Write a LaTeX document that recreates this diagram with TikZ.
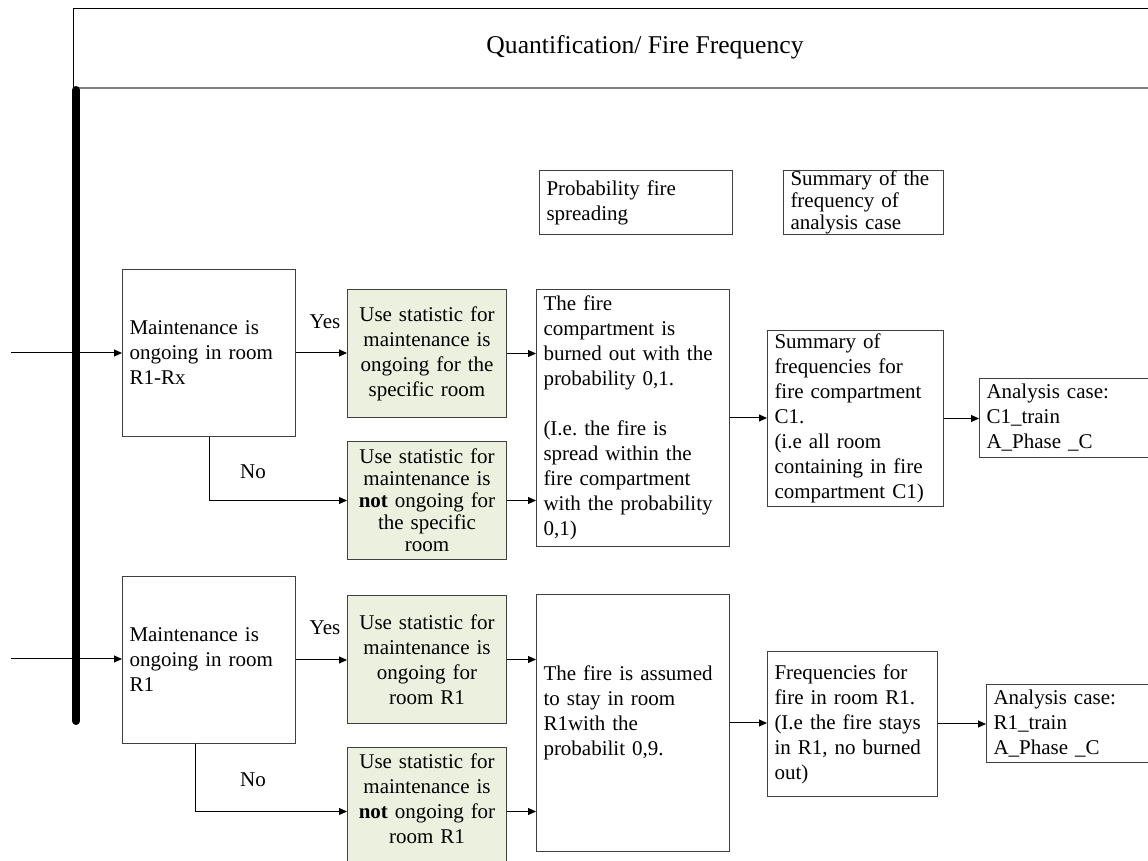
\documentclass[tikz,border=0pt]{standalone}
\usepackage{fontspec}
\setmainfont{Liberation Serif}
\usetikzlibrary{arrows.meta}

\definecolor{statgreen}{RGB}{235,241,222}
\newcommand{\boxfont}{\fontsize{10.5}{12.5}\selectfont}
\newcommand{\tightfont}{\fontsize{10.5}{11}\selectfont}
\frenchspacing

\begin{document}
\begin{tikzpicture} [x=0.5pt, y=-0.5pt,
			>={Triangle[length=4pt,width=3.5pt]},
			box/.style = {draw=black!75,
				    line width=0.5pt,
				    anchor=north west,
				    inner xsep=3.5pt,
				    inner ysep=0pt,
				    align=left,
				    font=\boxfont},
			stat/.style = {box, fill=statgreen, align=center},
			flow/.style = {->, line width=0.5pt},
			lab/.style = {font=\boxfont}]

	\useasboundingbox (0,0) rectangle (1148,861);
	\clip (0,0) rectangle (1148,861);

	% header
	\draw [line width=0.5pt] (1148,9) -- (73,9) -- (73,88);
	\draw [black!50, line width=1pt] (73,88) -- (1148,88);
	\node (title) at (645,47) [font=\fontsize{12.8}{15}\selectfont] {Quantification/ Fire Frequency};

	\draw [line width=4pt, line cap=round] (76,90) -- (76,721);

	\node (spread) at (539,170) [box, minimum width=96.5pt, minimum height=32pt, text width=89.5pt] {Probability fire\\spreading};
	\node (summary) at (783,170) [box, minimum width=80pt, minimum height=32pt, text width=73pt, font=\tightfont] {Summary of the\\frequency of\\analysis case};

	% room R1-Rx
	\coordinate (inA) at (11,353);
	\node (maintA) at (122,269) [box, minimum width=86.5pt, minimum height=83.5pt, text width=79.5pt] {Maintenance is\\ongoing in room\\R1-Rx};
	\node (yesA) at (347,289) [stat, minimum width=79.5pt, minimum height=64pt, text width=72.5pt] {Use statistic for\\maintenance is\\ongoing for the\\specific room};
	\node (noA) at (347,441) [stat, minimum width=79.5pt, minimum height=59pt, text width=72.5pt, font=\tightfont] {Use statistic for\\maintenance is\\\textbf{not} ongoing for\\the specific\\room};
	\node (fireA) at (536,289) [box, minimum width=96.5pt, minimum height=128.5pt, text width=89.5pt] {The fire\\compartment is\\burned out with the\\probability 0,1.\\[12.5pt](I.e. the fire is\\spread within the\\fire compartment\\with the probability\\0,1)};
	\node (sumA) at (767,330) [box, minimum width=88pt, minimum height=88pt, text width=81pt] {Summary of\\frequencies for\\fire compartment\\C1.\\(i.e all room\\containing in fire\\compartment C1)};
	\node (caseA) at (979,378) [box, minimum width=100pt, minimum height=39.5pt, text width=93pt] {Analysis case:\\C1\_train\\A\_Phase \_C};

	\node (yesAlab) at (325,322) [lab] {Yes};
	\node (noAlab) at (253,472) [lab] {No};

	\draw [flow] (inA) -- (inA -| maintA.west);
	\draw [flow] (maintA.east) -- (maintA.east -| yesA.west);
	\draw [flow] (maintA.south) |- (noA.west);
	\draw [flow] (yesA.east) -- (yesA.east -| fireA.west);
	\draw [flow] (noA.east) -- (noA.east -| fireA.west);
	\draw [flow] (fireA.east) -- (fireA.east -| sumA.west);
	\draw [flow] (sumA.east) -- (sumA.east -| caseA.west);

	% room R1
	\coordinate (inB) at (11,659);
	\node (maintB) at (122,576) [box, minimum width=86.5pt, minimum height=83.5pt, text width=79.5pt] {Maintenance is\\ongoing in room\\R1};
	\node (yesB) at (347,595) [stat, minimum width=79.5pt, minimum height=64pt, text width=72.5pt] {Use statistic for\\maintenance is\\ongoing for\\room R1};
	\node (noB) at (347,747) [stat, minimum width=79.5pt, minimum height=64pt, text width=72.5pt] {Use statistic for\\maintenance is\\\textbf{not} ongoing for\\room R1\\\mbox{}};
	\node (fireB) at (536,594) [box, minimum width=96.5pt, minimum height=128.5pt, text width=89.5pt] {The fire is assumed\\to stay in room\\R1with the\\probabilit 0,9.\\\mbox{}};
	\node (freqB) at (767,651) [box, minimum width=85pt, minimum height=72.5pt, text width=78pt] {Frequencies for\\fire in room R1.\\(I.e the fire stays\\in R1, no burned\\out)};
	\node (caseB) at (986,684) [box, minimum width=100pt, minimum height=39pt, text width=93pt] {Analysis case:\\R1\_train\\A\_Phase \_C};

	\node (yesBlab) at (325,628) [lab] {Yes};
	\node (noBlab) at (253,780) [lab] {No};

	\draw [flow] (inB) -- (inB -| maintB.west);
	\draw [flow] (maintB.east) -- (maintB.east -| yesB.west);
	\draw [flow] ([xshift=-6.75pt]maintB.south) |- (noB.west);
	\draw [flow] (yesB.east) -- (yesB.east -| fireB.west);
	\draw [flow] (noB.east) -- (noB.east -| fireB.west);
	\draw [flow] (fireB.east) -- (fireB.east -| freqB.west);
	\draw [flow] (freqB.east) -- (freqB.east -| caseB.west);

\end{tikzpicture}
\end{document}
